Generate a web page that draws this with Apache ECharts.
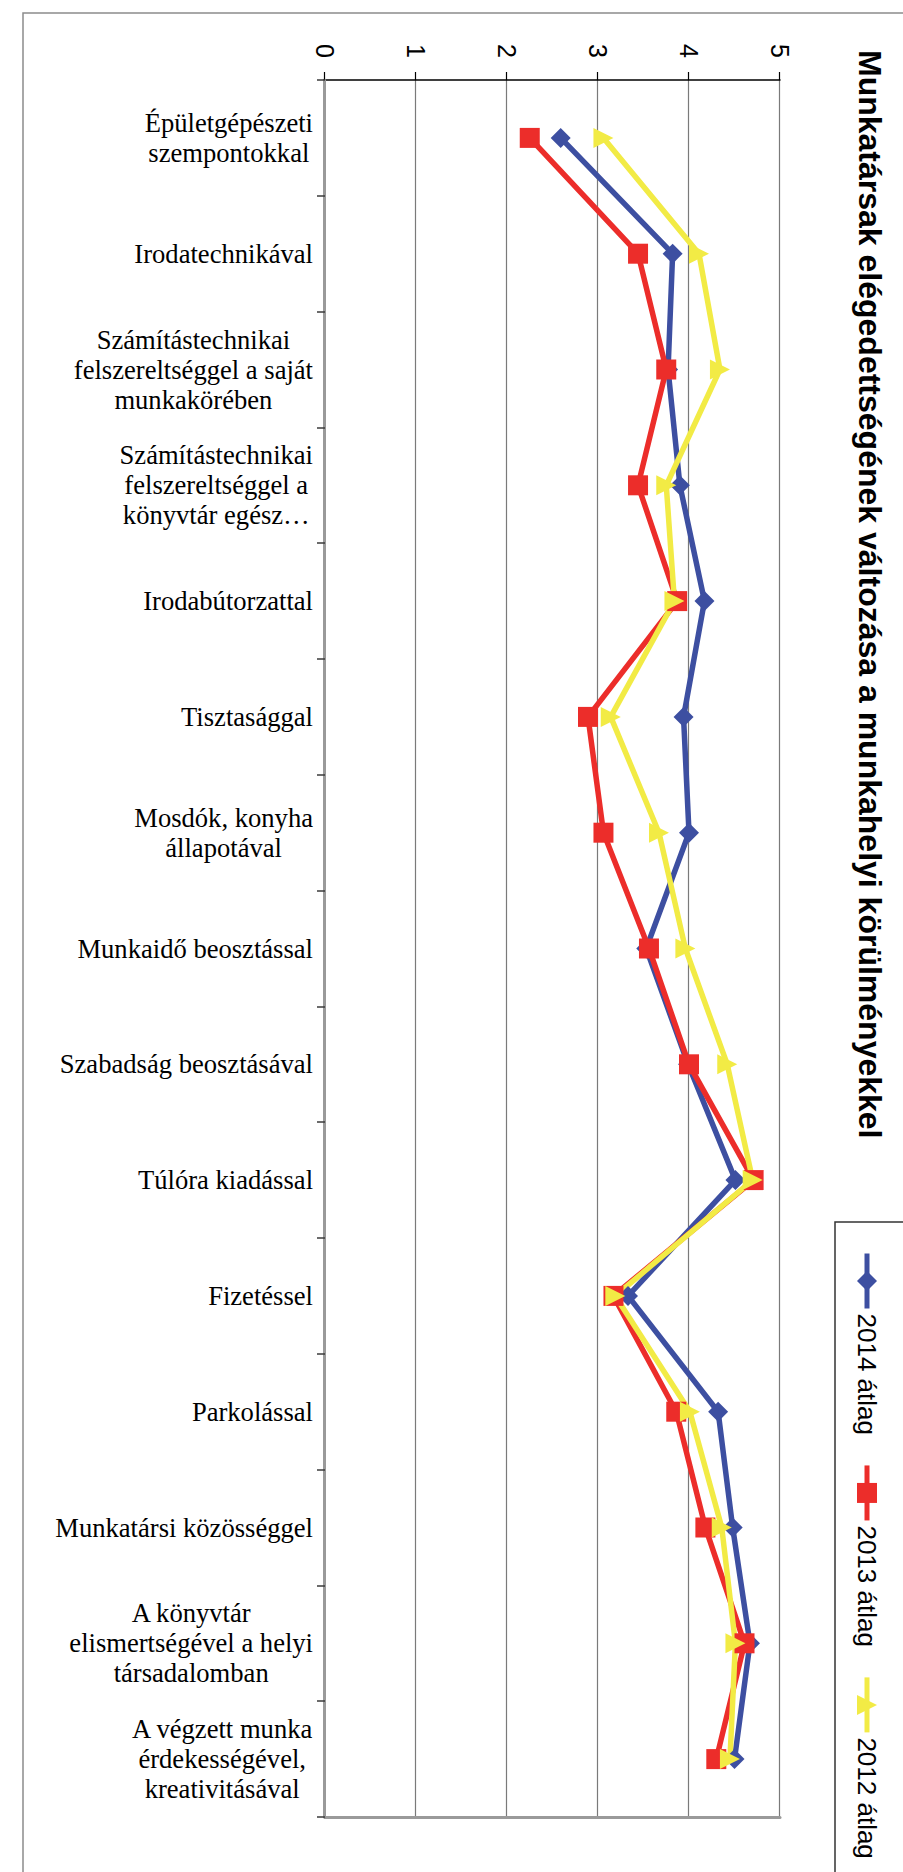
<!DOCTYPE html>
<html>
<head>
<meta charset="utf-8">
<script src="https://cdn.jsdelivr.net/npm/echarts@6/dist/echarts.min.js"></script>
<style>
html, body { margin: 0; padding: 0; width: 903px; height: 1872px; overflow: hidden; background: #fff; }
#chart { position: absolute; left: 0; top: 0; width: 1872px; height: 903px; transform-origin: 0 0; transform: translate(903px, 0) rotate(90deg); }
</style>
</head>
<body>
<div id="chart"></div>
<script>
const chartTitle = 'Munkatársak elégedettségének változása a munkahelyi körülményekkel';

const categories = [
  'Épületgépészeti\nszempontokkal',
  'Irodatechnikával',
  'Számítástechnikai\nfelszereltséggel a saját\nmunkakörében',
  'Számítástechnikai\nfelszereltséggel a\nkönyvtár egész…',
  'Irodabútorzattal',
  'Tisztasággal',
  'Mosdók, konyha\nállapotával',
  'Munkaidő beosztással',
  'Szabadság beosztásával',
  'Túlóra kiadással',
  'Fizetéssel',
  'Parkolással',
  'Munkatársi közösséggel',
  'A könyvtár\nelismertségével a helyi\ntársadalomban',
  'A végzett munka\nérdekességével,\nkreativitásával'
];

const seriesNames = ['2014 átlag', '2013 átlag', '2012 átlag'];

const avg2014 = [2.59, 3.82, 3.77, 3.90, 4.17, 3.94, 4.00, 3.53, 3.99, 4.51, 3.33, 4.32, 4.48, 4.67, 4.50];
const avg2013 = [2.25, 3.44, 3.75, 3.44, 3.87, 2.89, 3.06, 3.56, 4.00, 4.71, 3.17, 3.86, 4.18, 4.61, 4.30];
const avg2012 = [3.06, 4.11, 4.34, 3.75, 3.84, 3.14, 3.67, 3.96, 4.42, 4.70, 3.19, 4.01, 4.36, 4.51, 4.45];

const valueMin = 0;
const valueMax = 5;
const valueStep = 1;

const sans = 'Liberation Sans, Arial, sans-serif';
const serif = 'Liberation Serif, Times New Roman, serif';

const chart = echarts.init(document.getElementById('chart'), null, { renderer: 'svg', width: 1872, height: 903 });

function mkSeries(name, data, color, symbol) {
  return {
    name: name,
    type: 'line',
    data: data,
    xAxisIndex: 0,
    yAxisIndex: 0,
    symbol: symbol,
    symbolSize: 20,
    showAllSymbol: true,
    lineStyle: { color: color, width: 5.5 },
    itemStyle: { color: color },
    emphasis: { disabled: true },
    z: 3
  };
}

chart.setOption({
  animation: false,
  backgroundColor: '#ffffff',
  title: {
    text: chartTitle,
    left: 50,
    top: 17,
    padding: 0,
    textStyle: { fontFamily: sans, fontSize: 32, fontWeight: 'bold', color: '#000' }
  },
  legend: {
    data: seriesNames,
    left: 1222,
    top: -10,
    width: 800,
    orient: 'horizontal',
    padding: [33, 32, 19, 29],
    itemGap: 28,
    itemWidth: 55,
    itemHeight: 25,
    lineStyle: { width: 5 },
    borderColor: '#333',
    borderWidth: 1.5,
    textStyle: { fontFamily: sans, fontSize: 26, lineHeight: 26, color: '#000' }
  },
  grid: {
    left: 80, right: 55, top: 123, bottom: 325,
    containLabel: false,
    outerBoundsMode: 'none'
  },
  graphic: [{
    type: 'rect',
    silent: true,
    z: -1,
    shape: { x: 13, y: -20, width: 2000, height: 900 },
    style: { fill: 'none', stroke: '#8c8c8c', lineWidth: 1.5 }
  }],
  xAxis: [{
    type: 'category',
    data: categories,
    position: 'bottom',
    boundaryGap: true,
    axisLine: { show: true, lineStyle: { color: '#3a3a3a', width: 2.5 } },
    axisTick: { show: true, length: 8, lineStyle: { color: '#3a3a3a', width: 1.5 } },
    splitLine: { show: false },
    axisLabel: {
      interval: 0,
      rotate: 90,
      margin: 12,
      color: '#000',
      fontFamily: serif,
      fontSize: 26.6,
      lineHeight: 30,
      formatter: function (v) {
        return v.split('\n').map(function (l) { return '{c|' + l + '}'; }).join('\n');
      },
      rich: {
        c: { align: 'center', fontFamily: serif, fontSize: 26.6, lineHeight: 30, color: '#000' }
      }
    }
  }, {
    type: 'category',
    data: categories,
    position: 'top',
    boundaryGap: true,
    axisLine: { show: true, lineStyle: { color: '#9a9a9a', width: 3 } },
    axisTick: { show: false },
    axisLabel: { show: false },
    splitLine: { show: false }
  }],
  yAxis: [{
    type: 'value',
    position: 'left',
    min: valueMin,
    max: valueMax,
    interval: valueStep,
    axisLine: { show: true, lineStyle: { color: '#000', width: 1.5 } },
    axisTick: { show: true, length: 8, lineStyle: { color: '#000', width: 1.2 } },
    splitLine: { show: true, lineStyle: { color: '#7a7a7a', width: 1.2 } },
    axisLabel: { margin: 22, color: '#000', fontFamily: sans, fontSize: 25 }
  }, {
    type: 'value',
    position: 'right',
    min: valueMin,
    max: valueMax,
    interval: valueStep,
    axisLine: { show: true, lineStyle: { color: '#9a9a9a', width: 3 } },
    axisTick: { show: false },
    axisLabel: { show: false },
    splitLine: { show: false }
  }],
  series: [
    mkSeries(seriesNames[0], avg2014, '#3d4fa1', 'diamond'),
    mkSeries(seriesNames[1], avg2013, '#ec2d2a', 'rect'),
    mkSeries(seriesNames[2], avg2012, '#f2eb45', 'triangle')
  ]
});
</script>
</body>
</html>
